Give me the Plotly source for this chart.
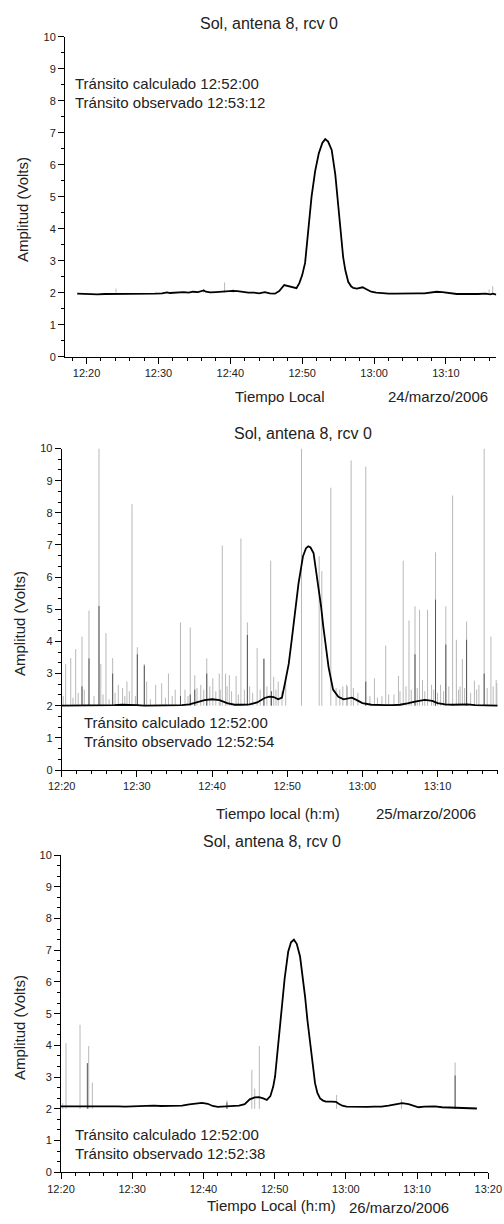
import pandas as pd
import plotly.graph_objects as go

# ---------------- DATA (time = minutes after 12:00 local) ----------------
dates = ["2006-03-24", "2006-03-25", "2006-03-26"]
titles = ["Sol, antena 8, rcv 0", "Sol, antena 8, rcv 0", "Sol, antena 8, rcv 0"]
xtitles = ["Tiempo Local", "Tiempo local (h:m)", "Tiempo Local (h:m)"]
date_labels = ["24/marzo/2006", "25/marzo/2006", "26/marzo/2006"]
calc_text = ["Tránsito calculado 12:52:00"] * 3
obs_text = ["Tránsito observado 12:53:12", "Tránsito observado 12:52:54", "Tránsito observado 12:52:38"]
ytitle = "Amplitud (Volts)"

# Panel 1 (24 marzo)
t1 = [18.7, 19.5, 20.5, 21.5, 22.5, 23.5, 24.5, 25.5, 26.5, 27.5, 28.5, 29.5, 30.5, 31.2, 31.6,
      32.5, 33.5, 34.2, 34.8, 35.5, 36.3, 36.6, 37.2, 38.0, 38.8, 39.5, 40.3, 41.0, 41.8, 42.5,
      43.3, 44.0, 44.8, 45.5, 46.2, 46.8, 47.5, 48.2, 48.7, 49.2, 49.6, 50.0, 50.4, 50.8, 51.3,
      51.8, 52.3, 52.8, 53.2, 53.6, 54.1, 54.6, 55.0, 55.4, 55.7, 56.0, 56.4, 56.8, 57.1, 57.6,
      58.4, 59.0, 59.6, 60.3, 61.0, 62.0, 63.0, 64.0, 65.0, 66.0, 67.0, 68.0, 68.7, 69.5, 70.5,
      71.5, 72.5, 73.5, 74.5, 75.5, 76.2, 76.5, 77.0]
v1 = [1.97, 1.96, 1.96, 1.95, 1.96, 1.96, 1.95, 1.95, 1.96, 1.95, 1.96, 1.97, 1.98, 2.01, 1.99,
      2.00, 2.02, 2.00, 2.03, 2.02, 2.07, 2.03, 2.01, 2.02, 2.04, 2.05, 2.06, 2.05, 2.02, 2.00,
      2.00, 1.98, 2.02, 1.98, 1.97, 2.05, 2.24, 2.20, 2.16, 2.14, 2.30, 2.55, 2.93, 3.85, 5.00,
      5.80, 6.35, 6.68, 6.80, 6.72, 6.46, 5.70, 4.69, 3.80, 3.10, 2.70, 2.34, 2.20, 2.15, 2.13,
      2.17, 2.10, 2.03, 2.00, 1.98, 1.97, 1.97, 1.98, 1.97, 1.98, 1.98, 2.00, 2.03, 2.02, 1.98,
      1.96, 1.96, 1.95, 1.96, 1.97, 1.95, 1.97, 1.94]
s1_t = [24.1, 36.3, 39.2, 40.4, 76.0, 76.5]
s1_v = [2.13, 2.12, 2.32, 2.12, 2.10, 2.20]

# Panel 2 (25 marzo)
t2 = [20.0, 21.0, 22.0, 23.0, 24.0, 25.0, 26.0, 27.0, 28.0, 29.0, 30.0, 31.0, 32.0, 33.0, 34.0,
      35.0, 36.0, 37.0, 38.0, 39.0, 40.0, 41.0, 42.0, 43.0, 44.0, 45.0, 46.0, 47.0, 47.6, 48.2,
      48.8, 49.3, 49.7, 50.2, 50.6, 51.0, 51.5, 52.1, 52.5, 52.8, 53.1, 53.5, 54.1, 54.5, 54.8,
      55.2, 55.5, 56.1, 56.8, 57.5, 58.2, 58.6, 59.2, 60.0, 61.2, 62.0, 63.0, 64.0, 65.0, 66.0,
      67.0, 68.3, 69.3, 70.0, 71.0, 72.0, 73.0, 74.0, 75.0, 76.0, 77.0, 78.0]
v2 = [2.00, 2.00, 2.01, 2.00, 2.02, 2.02, 2.01, 2.02, 2.03, 2.03, 2.02, 2.00, 2.00, 2.01, 2.01,
      2.02, 2.02, 2.04, 2.10, 2.17, 2.20, 2.17, 2.08, 2.03, 2.03, 2.04, 2.10, 2.24, 2.28, 2.27,
      2.20, 2.25, 2.70, 3.30, 4.05, 4.90, 5.80, 6.65, 6.90, 6.96, 6.92, 6.75, 5.80, 5.10, 4.46,
      3.70, 3.20, 2.50, 2.28, 2.20, 2.22, 2.25, 2.18, 2.08, 2.03, 2.02, 2.02, 2.02, 2.03, 2.07,
      2.13, 2.18, 2.15, 2.08, 2.04, 2.03, 2.04, 2.04, 2.02, 2.01, 2.00, 2.00]
# light grey interference spikes
s2_t = [20.53, 21.2, 21.86, 22.7, 23.63, 24.96, 25.2, 25.89, 26.78, 27.53, 28.1, 28.68, 29.35,
        30.06, 30.99, 31.3, 32.5, 33.3, 34.2, 35.1, 35.8, 36.4, 37.1, 37.7, 38.5, 39.3, 40.1,
        40.96, 41.36, 41.8, 42.3, 43.2, 43.84, 44.7, 45.0, 46.0, 46.9, 47.8, 48.2, 48.8, 49.8,
        51.9, 54.25, 54.6, 55.8, 56.5, 57.4, 57.9, 58.5, 60.45, 61.6, 63.1, 63.5, 64.8, 65.43,
        65.8, 66.2, 67.0, 67.6, 68.0, 68.67, 69.2, 69.73, 70.4, 71.1, 72.0, 72.5, 73.0, 73.3,
        73.86, 74.9, 75.5, 76.2, 77.1, 77.8,
        20.2, 21.5, 22.2, 23.0, 24.3, 25.5, 26.3, 27.1, 28.4, 29.0, 29.8, 31.8, 33.8, 34.7, 36.8,
        38.0, 38.9, 39.7, 40.5, 41.1, 42.0, 42.6, 43.5, 44.3, 45.4, 46.4, 47.3, 48.5, 49.3, 57.0,
        58.0, 58.8, 59.4, 61.0, 62.0, 62.6, 64.2, 65.0, 66.5, 67.3, 68.3, 69.5, 70.0, 70.8, 71.5,
        72.8, 73.6, 74.4, 75.2, 76.6, 77.4, 77.9]
s2_v = [3.30, 3.48, 3.76, 4.15, 4.96, 10.0, 3.30, 4.26, 3.48, 2.65, 2.55, 2.75, 8.27,
        3.82, 3.30, 2.75, 2.65, 2.70, 3.00, 2.50, 4.59, 2.50, 4.43, 2.95, 2.65, 3.47, 2.85,
        3.00, 6.98, 3.00, 2.95, 2.93, 7.20, 4.59, 2.60, 3.79, 3.48, 6.51, 2.90, 2.75, 2.90,
        10.0, 6.65, 6.18, 8.78, 2.55, 2.60, 2.65, 9.63, 9.44, 2.85, 3.87, 2.35, 2.93, 6.51,
        2.60, 4.65, 5.09, 4.98, 2.80, 4.98, 2.65, 6.77, 2.65, 5.09, 8.54, 4.05, 2.60, 3.45,
        4.62, 2.78, 2.65, 10.0, 4.15, 2.80,
        2.30, 2.25, 2.40, 2.50, 2.30, 2.35, 2.20, 2.40, 2.30, 2.45, 2.30, 2.20, 2.25, 2.30, 2.30,
        2.55, 2.50, 2.60, 2.45, 2.50, 2.60, 2.45, 2.35, 2.50, 2.40, 2.50, 2.60, 2.50, 2.45, 2.50,
        2.60, 2.55, 2.40, 2.30, 2.25, 2.30, 2.35, 2.45, 2.50, 2.55, 2.45, 2.50, 2.40, 2.45, 2.60,
        2.50, 2.55, 2.40, 2.50, 2.55, 2.60, 2.70]
# darker (overlapping) spikes
d2_t = [22.7, 23.63, 24.96, 26.78, 30.06, 30.99, 35.8, 37.1, 37.7, 39.3, 44.7, 46.9, 47.9,
        60.45, 67.0, 69.73, 71.1, 73.86, 76.2]
d2_v = [2.60, 3.47, 5.10, 3.00, 3.60, 3.25, 2.30, 2.35, 2.50, 3.00, 4.20, 3.45, 2.45,
        2.75, 3.60, 5.30, 3.90, 4.05, 3.00]

# Panel 3 (26 marzo)
t3 = [20.0, 21.0, 22.0, 23.0, 24.0, 25.0, 26.0, 27.0, 28.0, 29.0, 30.0, 31.0, 32.0, 33.0, 34.0,
      35.0, 36.0, 37.0, 38.0, 39.0, 39.8, 40.6, 41.3, 42.0, 43.0, 44.0, 45.0, 45.8, 46.5, 47.2,
      47.8, 48.4, 48.9, 49.4, 49.8, 50.06, 50.4, 50.76, 51.0, 51.4, 51.9, 52.3, 52.7, 53.1, 53.57,
      53.9, 54.27, 54.6, 54.97, 55.3, 55.67, 56.0, 56.38, 56.8, 57.2, 58.0, 58.6, 59.0, 59.5,
      60.1, 61.0, 62.0, 63.0, 64.0, 65.0, 66.0, 67.0, 67.9, 68.8, 69.5, 70.2, 71.0, 72.0, 72.5,
      73.5, 74.5, 75.5, 76.5, 77.5, 78.4]
v3 = [2.08, 2.08, 2.09, 2.08, 2.09, 2.10, 2.09, 2.08, 2.08, 2.07, 2.08, 2.09, 2.10, 2.10, 2.09,
      2.10, 2.09, 2.10, 2.14, 2.18, 2.19, 2.16, 2.09, 2.06, 2.07, 2.09, 2.10, 2.15, 2.30, 2.36,
      2.37, 2.33, 2.28, 2.40, 2.70, 3.02, 3.80, 4.70, 5.22, 6.10, 6.95, 7.25, 7.33, 7.20, 6.80,
      6.25, 5.54, 4.80, 4.07, 3.40, 2.81, 2.50, 2.33, 2.26, 2.23, 2.23, 2.22, 2.16, 2.10,
      2.07, 2.06, 2.06, 2.06, 2.07, 2.07, 2.10, 2.15, 2.18, 2.15, 2.10, 2.05, 2.07, 2.08, 2.08,
      2.05, 2.04, 2.03, 2.03, 2.02, 2.01]
s3_t = [20.24, 20.7, 22.67, 23.89, 24.4, 43.3, 46.8, 47.2, 47.85, 58.7, 67.8, 75.34]
s3_v = [2.18, 4.07, 4.65, 3.98, 2.83, 2.27, 3.23, 2.64, 3.98, 2.44, 2.30, 3.46]
d3_t = [23.7, 43.3, 75.34]
d3_v = [3.44, 2.20, 3.05]

x_ranges = [(17.0, 77.0), (20.0, 78.0), (20.0, 80.0)]
y_minor = [0.5, 1 / 3, 1 / 3]
spike_base = 2.0

# ---------------- FIGURE ----------------
W, H = 504, 1224
FONT = "Liberation Sans, Arial, sans-serif"


def fx(p):
    return p / W


def fy(p):
    return 1 - p / H


def tstamp(date, mins):
    base = pd.Timestamp(date + " 12:00:00")
    return [base + pd.to_timedelta(m, unit="min") for m in mins]


def spikes(date, ts, vs):
    xs, ys = [], []
    for x, y in zip(tstamp(date, ts), vs):
        xs += [x, x, None]
        ys += [spike_base, y, None]
    return xs, ys


# panel geometry in pixels: (x_left, x_right, y_top(=10), y_bottom(=0))
geo = [(65, 496.3, 36.7, 356.7), (61.7, 497.7, 448.5, 770), (61, 488.3, 855, 1172.3)]

curves = [(t1, v1), (t2, v2), (t3, v3)]
light = [(s1_t, s1_v), (s2_t, s2_v), (s3_t, s3_v)]
dark = [([], []), (d2_t, d2_v), (d3_t, d3_v)]

fig = go.Figure()
layout = dict(width=W, height=H, margin=dict(l=0, r=0, t=0, b=0, autoexpand=False),
              paper_bgcolor="white", plot_bgcolor="white", showlegend=False,
              font=dict(family=FONT, color="#222", size=11))
annotations = []

for i in range(3):
    xa = "x" if i == 0 else f"x{i + 1}"
    ya = "y" if i == 0 else f"y{i + 1}"
    d = dates[i]
    lx, ly = light[i]
    sx, sy = spikes(d, lx, ly)
    fig.add_trace(go.Scatter(x=sx, y=sy, mode="lines", xaxis=xa, yaxis=ya,
                             line=dict(color="#b8b8b8", width=1), hoverinfo="skip"))
    dxs, dys = dark[i]
    if dxs:
        sx, sy = spikes(d, dxs, dys)
        fig.add_trace(go.Scatter(x=sx, y=sy, mode="lines", xaxis=xa, yaxis=ya,
                                 line=dict(color="#555", width=1), hoverinfo="skip"))
    ct, cv = curves[i]
    fig.add_trace(go.Scatter(x=tstamp(d, ct), y=cv, mode="lines", xaxis=xa, yaxis=ya,
                             line=dict(color="black", width=1.8)))

    x0, x1, yt, yb = geo[i]
    r0, r1 = x_ranges[i]
    rng = tstamp(d, [r0, r1])
    key_x = "xaxis" if i == 0 else f"xaxis{i + 1}"
    key_y = "yaxis" if i == 0 else f"yaxis{i + 1}"
    layout[key_x] = dict(domain=[fx(x0), fx(x1)], anchor=ya, type="date", range=rng,
                         automargin=False,
                         tickformat="%H:%M", dtick=600000, tick0=d + " 12:00:00",
                         showline=True, linecolor="black", linewidth=1,
                         ticks="outside", ticklen=6, tickwidth=1, tickcolor="black",
                         minor=dict(dtick=120000, ticks="outside", ticklen=3, tickwidth=1,
                                    tickcolor="black"),
                         showgrid=False, zeroline=False,
                         tickfont=dict(size=11, color="#222", family=FONT))
    layout[key_y] = dict(domain=[fy(yb), fy(yt)], anchor=xa, range=[0, 10],
                         automargin=False,
                         dtick=1, tick0=0, showline=True, linecolor="black", linewidth=1,
                         ticks="outside", ticklen=6, tickwidth=1, tickcolor="black",
                         minor=dict(dtick=y_minor[i], tick0=0, ticks="outside", ticklen=3,
                                    tickwidth=1, tickcolor="black"),
                         showgrid=False, zeroline=False,
                         tickfont=dict(size=11, color="#222", family=FONT))

# text positions (pixels)
title_pos = [(269, 23.5), (303, 433), (272, 841)]
ytitle_pos = [(22, 210), (19, 624), (19, 1028)]
xtitle_pos = [(280, 397), (277.5, 813), (271.7, 1205)]
date_pos = [(437.5, 397), (426, 813), (398.7, 1207)]
ann_pos = [(72.7, 83.5, 102.5), (81.7, 722, 741), (72.7, 1134, 1153)]

for i in range(3):
    def add(text, x, y, size, xanchor="center", angle=0):
        annotations.append(dict(text=text, x=fx(x), y=fy(y), xref="paper", yref="paper",
                                xanchor=xanchor, yanchor="middle", showarrow=False,
                                textangle=angle,
                                font=dict(family=FONT, size=size, color="#222")))
    add(titles[i], *title_pos[i], 16)
    add(ytitle, *ytitle_pos[i], 15, angle=-90)
    add(xtitles[i], *xtitle_pos[i], 15)
    add(date_labels[i], *date_pos[i], 15)
    ax_, ay1, ay2 = ann_pos[i]
    add(calc_text[i], ax_, ay1, 15, xanchor="left")
    add(obs_text[i], ax_, ay2, 15, xanchor="left")

layout["annotations"] = annotations
fig.update_layout(**layout)
fig.write_html("out.html", config={"displayModeBar": False},
               post_script="document.body.style.margin='0';document.body.style.overflow='hidden';")
